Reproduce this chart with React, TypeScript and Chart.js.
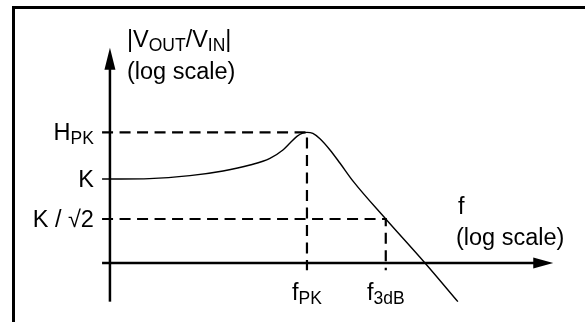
import { useEffect, useRef } from "react";
import { Chart, registerables } from "chart.js";

Chart.register(...registerables);

// Frequency axis: log10(f / fPK) in decades. Magnitude axis: dB relative to K.
const curveLogF = [-1, -0.8, -0.594, -0.426, -0.289, -0.188, -0.122, -0.086, -0.051, -0.022, 0, 0.03, 0.066, 0.117, 0.168, 0.236, 0.4, 0.599, 0.766];
const curveDb = [0, 0.03, 0.25, 0.6, 1.05, 1.55, 2.18, 2.7, 3.2, 3.44, 3.5, 3.42, 3.02, 2.18, 1.18, -0.2, -3.0, -6.3, -9.2];

// Reference levels on the magnitude axis
const levelNames = [["H", "PK"], ["K", ""], ["K / √2", ""]];
const levelDb = [3.5, 0, -3];
const levelDashed = [true, false, true];

// Marked frequencies
const markerNames = [["f", "PK"], ["f", "3dB"]];
const markerLogF = [0, 0.4];

// Axis extents
const originLogF = -1;
const originDb = -6.3;
const xAxisSpan = [-1.04, 1.25];
const yAxisSpan = [-9.2, 9.85];
const tickBelowDb = -6.85;
const tickLeftLogF = -1.04;

const FONT = '"Liberation Sans", Arial, Helvetica, sans-serif';
const MAIN = 23.5;
const SUB = 17.5;

type Seg = { t: string; sub?: boolean };

function drawRich(ctx: CanvasRenderingContext2D, segs: Seg[], x: number, y: number, align: "left" | "right" | "center") {
  ctx.textAlign = "left";
  ctx.textBaseline = "alphabetic";
  const widths = segs.map((s) => {
    ctx.font = `${s.sub ? SUB : MAIN}px ${FONT}`;
    return ctx.measureText(s.t).width;
  });
  const total = widths.reduce((a, b) => a + b, 0);
  let cx = align === "left" ? x : align === "right" ? x - total : x - total / 2;
  segs.forEach((s, i) => {
    ctx.font = `${s.sub ? SUB : MAIN}px ${FONT}`;
    ctx.fillText(s.t, cx, s.sub ? y + 4 : y);
    cx += widths[i];
  });
}

function pair(name: string[]): Seg[] {
  const out: Seg[] = [{ t: name[0] }];
  if (name[1]) out.push({ t: name[1], sub: true });
  return out;
}

const annotations = {
  id: "bodeAnnotations",
  afterDatasetsDraw(chart: Chart) {
    const ctx = chart.ctx;
    const xs = chart.scales.x;
    const ys = chart.scales.y;
    const ax = xs.getPixelForValue(originLogF);
    const ay = ys.getPixelForValue(originDb);
    ctx.save();
    ctx.fillStyle = "#000";

    // frame
    ctx.fillRect(12, 6, 3, chart.height);
    ctx.fillRect(12, 6, chart.width, 3);

    // arrowheads
    const topY = ys.getPixelForValue(yAxisSpan[1]);
    ctx.beginPath();
    ctx.moveTo(ax, topY);
    ctx.lineTo(ax - 5.5, topY + 22);
    ctx.lineTo(ax + 5.5, topY + 22);
    ctx.closePath();
    ctx.fill();
    const tipX = xs.getPixelForValue(xAxisSpan[1]);
    ctx.beginPath();
    ctx.moveTo(tipX, ay);
    ctx.lineTo(tipX - 20, ay - 5.5);
    ctx.lineTo(tipX - 20, ay + 5.5);
    ctx.closePath();
    ctx.fill();

    // magnitude axis title
    drawRich(ctx, [{ t: "|V" }, { t: "OUT", sub: true }, { t: "/V" }, { t: "IN", sub: true }, { t: "|" }], ax + 17, topY - 1, "left");
    drawRich(ctx, [{ t: "(log scale)" }], ax + 17, topY + 31, "left");

    // frequency axis title
    drawRich(ctx, [{ t: "f" }], ax + 348, ay - 49, "left");
    drawRich(ctx, [{ t: "(log scale)" }], ax + 346, ay - 18, "left");

    // level labels
    levelNames.forEach((n, i) => {
      drawRich(ctx, pair(n), ax - 16, ys.getPixelForValue(levelDb[i]) + 8, "right");
    });
    // frequency labels
    markerNames.forEach((n, i) => {
      drawRich(ctx, pair(n), xs.getPixelForValue(markerLogF[i]), ay + 37, "center");
    });
    ctx.restore();
  },
};

export default function App() {
  const ref = useRef<HTMLCanvasElement | null>(null);

  useEffect(() => {
    if (!ref.current) return;
    const line = (data: { x: number; y: number }[], extra: Record<string, unknown> = {}) => ({
      data,
      showLine: true,
      pointRadius: 0,
      borderColor: "#000",
      borderWidth: 2,
      fill: false,
      ...extra,
    });

    const datasets: any[] = [
      // axes
      line([{ x: originLogF, y: yAxisSpan[0] }, { x: originLogF, y: yAxisSpan[1] - 1 }], { borderWidth: 2.5 }),
      line([{ x: xAxisSpan[0], y: originDb }, { x: xAxisSpan[1] - 0.05, y: originDb }], { borderWidth: 2.5 }),
    ];

    // level guides: dashed to the matching marker frequency, solid tick for K
    levelDb.forEach((v, i) => {
      const markerIdx = i === 0 ? 0 : i === 2 ? 1 : -1;
      if (levelDashed[i] && markerIdx >= 0) {
        const fx = markerLogF[markerIdx];
        datasets.push(
          line([{ x: tickLeftLogF, y: v }, { x: fx, y: v }, { x: fx, y: tickBelowDb }], { borderDash: [11, 6.5], borderWidth: 2.2 })
        );
      } else {
        datasets.push(line([{ x: tickLeftLogF, y: v }, { x: originLogF, y: v }], { borderWidth: 1.5 }));
      }
    });

    // response curve
    datasets.push(
      line(curveLogF.map((x, i) => ({ x, y: curveDb[i] })), {
        borderWidth: 1.4,
        cubicInterpolationMode: "monotone",
      })
    );

    const chart = new Chart(ref.current, {
      type: "scatter",
      data: { datasets },
      options: {
        responsive: false,
        animation: false,
        events: [],
        layout: { padding: 0 },
        plugins: { legend: { display: false }, tooltip: { enabled: false } },
        scales: {
          x: { type: "linear", display: false, min: -1.558, max: 1.4112 },
          y: { type: "linear", display: false, min: -10.725, max: 13.425 },
        },
      },
      plugins: [annotations],
    });
    return () => chart.destroy();
  }, []);

  return (
    <div style={{ position: "fixed", left: 0, top: 0, width: 585, height: 322, background: "#fff" }}>
      <canvas ref={ref} width={585} height={322} style={{ display: "block" }} />
    </div>
  );
}
